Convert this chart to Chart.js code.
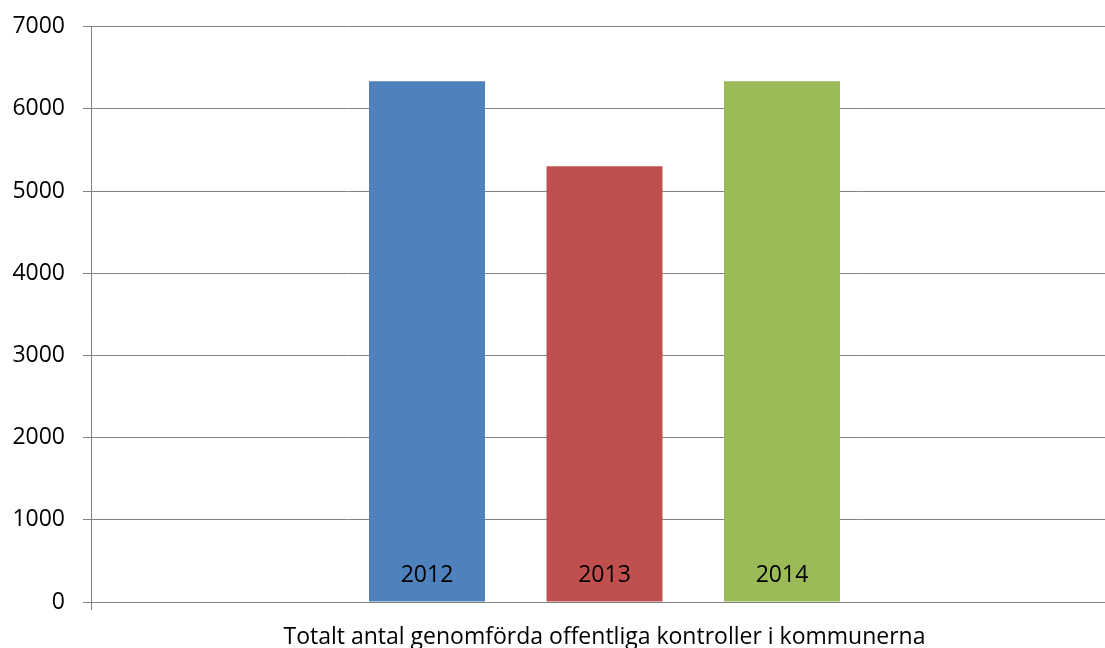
<!DOCTYPE html>
<html>
<head>
<meta charset="utf-8">
<script src="https://cdn.jsdelivr.net/npm/chart.js@4/dist/chart.umd.min.js"></script>
<style>
  html, body { margin: 0; padding: 0; overflow: hidden; background: #fff; }
  #wrap { position: absolute; left: 0; top: 0; width: 1118px; height: 648px; }
</style>
</head>
<body>
<div id="wrap"><canvas id="myChart"></canvas></div>
<script>
const categories = ['Totalt antal genomförda offentliga kontroller i kommunerna'];
const years = ['2012', '2013', '2014'];
const values2012 = [6335];
const values2013 = [5300];
const values2014 = [6335];
const yTicks = [0, 1000, 2000, 3000, 4000, 5000, 6000, 7000];
const colors = ['#4F81BD', '#C0504D', '#9BBB59'];

const FONT = '"Open Sans", "Liberation Sans", sans-serif';
const GRID = '#808080';

// writes the year at the foot of each bar
const barLabels = {
  id: 'barLabels',
  afterDatasetsDraw(chart) {
    const c = chart.ctx;
    const yZero = chart.scales.y.getPixelForValue(0);
    c.save();
    c.font = '23px ' + FONT;
    c.fillStyle = '#000';
    c.textAlign = 'center';
    c.textBaseline = 'middle';
    chart.data.datasets.forEach(function(ds, i){
      chart.getDatasetMeta(i).data.forEach(function(bar){
        c.fillText(ds.label, bar.x, yZero - 27);
      });
    });
    c.restore();
  }
};

const ctx = document.getElementById('myChart');

new Chart(ctx, {
  type: 'bar',
  data: {
    labels: categories,
    datasets: [
      { label: years[0], data: values2012, backgroundColor: colors[0] },
      { label: years[1], data: values2013, backgroundColor: colors[1] },
      { label: years[2], data: values2014, backgroundColor: colors[2] }
    ]
  },
  options: {
    responsive: true,
    maintainAspectRatio: false,
    animation: false,
    categoryPercentage: 0.5185,
    barPercentage: 0.6535,
    layout: { padding: { top: 0, left: 12, right: 0, bottom: 0 } },
    plugins: {
      legend: { display: false },
      tooltip: { enabled: false }
    },
    scales: {
      x: {
        afterFit: function(axis){ axis.height = 46; },
        grid: { drawOnChartArea: false, color: GRID, tickLength: 8 },
        border: { color: GRID },
        ticks: { color: '#000', padding: 16, font: { family: FONT, size: 23, lineHeight: 1 } }
      },
      y: {
        min: 0,
        max: 7000,
        afterFit: function(axis){ axis.width = 79; },
        afterBuildTicks: function(axis){ axis.ticks = yTicks.map(v => ({ value: v })); },
        grid: { color: GRID, tickLength: 8 },
        border: { color: GRID },
        ticks: {
          color: '#000',
          padding: 18,
          font: { family: FONT, size: 23, lineHeight: 0.75 },
          callback: function(value){ return String(value); }
        }
      }
    }
  },
  plugins: [barLabels]
});
</script>
</body>
</html>
